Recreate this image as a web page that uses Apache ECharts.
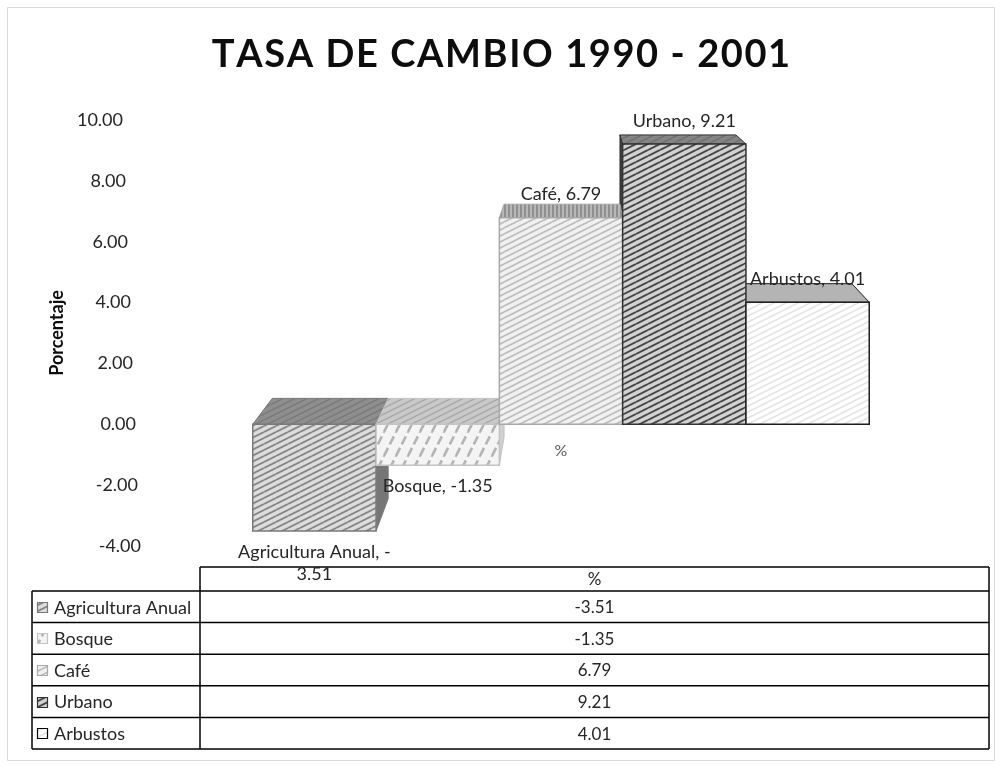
<!DOCTYPE html>
<html>
<head>
<meta charset="utf-8">
<title>Tasa de cambio 1990 - 2001</title>
<script src="https://cdn.jsdelivr.net/npm/echarts@6/dist/echarts.min.js"></script>
<style>
  html, body { margin: 0; padding: 0; background: #ffffff; }
  #chart { width: 1002px; height: 768px; }
</style>
</head>
<body>
<div id="chart"></div>
<script>
// ---- data ----
const categories = ['%'];
const seriesNames = ['Agricultura Anual', 'Bosque', 'Café', 'Urbano', 'Arbustos'];
const seriesValues = [-3.51, -1.35, 6.79, 9.21, 4.01];
const yTicks = [-4, -2, 0, 2, 4, 6, 8, 10];
const tableHeader = '%';
const chartTitle = 'TASA DE CAMBIO 1990 - 2001';

// ---- look ----
const FONT = 'Lato, "Open Sans", sans-serif';
const GRID = { left: 150, right: 30, top: 120, bottom: 222 };
const CHART_H = 768;
const BAR_SHARE = 0.75;      // share of the category band covered by the bars
const DEPTH = 0.06;          // how far the back faces recede toward the vanishing point
const VANISH_VALUE = 14.2;   // vanishing point height, in axis units
const VANISH_SHIFT = 17;     // vanishing point offset from the band centre, px

const yMin = yTicks[0];
const yMax = yTicks[yTicks.length - 1];
// category label sits on the zero line
const plotH = CHART_H - GRID.top - GRID.bottom;
const xAxisOffset = -plotH * (0 - yMin) / (yMax - yMin);

function stripes(bg, fg, w, h, lw, dash) {
  const c = document.createElement('canvas');
  c.width = w; c.height = h;
  const ctx = c.getContext('2d');
  ctx.fillStyle = bg;
  ctx.fillRect(0, 0, w, h);
  ctx.strokeStyle = fg;
  ctx.lineWidth = lw;
  if (dash) ctx.setLineDash(dash);
  for (let k = -1; k <= 1; k++) {
    ctx.beginPath();
    ctx.moveTo(0, h + k * h);
    ctx.lineTo(w, k * h);
    ctx.stroke();
  }
  return { image: c, repeat: 'repeat' };
}
function steep(bg, fg, w, h, lw, dash) {
  const c = document.createElement('canvas');
  c.width = w; c.height = h;
  const ctx = c.getContext('2d');
  ctx.fillStyle = bg;
  ctx.fillRect(0, 0, w, h);
  ctx.strokeStyle = fg;
  ctx.lineWidth = lw;
  if (dash) ctx.setLineDash(dash);
  for (let k = -1; k <= 1; k++) {
    ctx.beginPath();
    ctx.moveTo(k * w, h);
    ctx.lineTo(w + k * w, 0);
    ctx.stroke();
  }
  return { image: c, repeat: 'repeat' };
}
function vbars(bg, fg, w, lw) {
  const c = document.createElement('canvas');
  c.width = w; c.height = w;
  const ctx = c.getContext('2d');
  ctx.fillStyle = bg;
  ctx.fillRect(0, 0, w, w);
  ctx.fillStyle = fg;
  ctx.fillRect(0, 0, lw, w);
  return { image: c, repeat: 'repeat' };
}

const faces = [
  { // Agricultura Anual
    front: stripes('#dcdcdc', '#858585', 12, 6, 1.8), stroke: '#7a7a7a',
    top: stripes('#8e8e8e', '#7a7a7a', 12, 6, 1.5), side: '#767676'
  },
  { // Bosque
    front: steep('#f4f4f4', '#b4b4b4', 12, 24, 2.6, [9, 4]), stroke: '#c4c4c4',
    top: stripes('#c9c9c9', '#a9a9a9', 12, 6, 1.5), side: '#d0d0d0'
  },
  { // Café
    front: stripes('#f1f1f1', '#bdbdbd', 12, 6, 1.7), stroke: '#a8a8a8',
    top: vbars('#b8b8b8', '#8e8e8e', 4, 2), side: '#9a9a9a'
  },
  { // Urbano
    front: stripes('#d2d2d2', '#444444', 12, 6, 1.9), stroke: '#333333',
    top: stripes('#858585', '#6e6e6e', 12, 6, 1.2), side: '#3e3e3e'
  },
  { // Arbustos
    front: stripes('#ffffff', '#e4e4e4', 12, 6, 1.6), stroke: '#1f1f1f',
    top: '#b4b4b4', side: '#9a9a9a'
  }
];

function barLabel(name, v) {
  const txt = name + ', ' + v.toFixed(2);
  // long negative labels wrap right after the sign
  if (txt.length > 20 && v < 0) return name + ', -\n' + Math.abs(v).toFixed(2);
  return txt;
}

function geom(api) {
  const i = api.value(2);
  const v = api.value(1);
  const c0 = api.coord([0, 0]);
  const cv = api.coord([0, v]);
  const band = api.size([1, 0])[0];
  const barW = band * BAR_SHARE / seriesValues.length;
  const x0 = c0[0] - band * BAR_SHARE / 2 + i * barW;
  const x1 = x0 + barW;
  const yt = Math.min(c0[1], cv[1]);
  const yb = Math.max(c0[1], cv[1]);
  const vp = api.coord([0, VANISH_VALUE]);
  vp[0] = c0[0] + VANISH_SHIFT;
  const back = (x, y) => [x + (vp[0] - x) * DEPTH, y + (vp[1] - y) * DEPTH];
  return { i, v, x0, x1, yt, yb, vp, back };
}

function renderSide(params, api) {
  const g = geom(api);
  const f = faces[g.i];
  let x = null;
  if (g.x1 < g.vp[0]) x = g.x1;
  else if (g.x0 > g.vp[0]) x = g.x0;
  if (x === null) return { type: 'group', children: [] };
  return {
    type: 'polygon',
    shape: { points: [[x, g.yt], g.back(x, g.yt), g.back(x, g.yb), [x, g.yb]] },
    style: { fill: f.side, stroke: f.stroke, lineWidth: 1 }
  };
}

function renderTop(params, api) {
  const g = geom(api);
  const f = faces[g.i];
  return {
    type: 'polygon',
    shape: { points: [[g.x0, g.yt], [g.x1, g.yt], g.back(g.x1, g.yt), g.back(g.x0, g.yt)] },
    style: { fill: f.top, stroke: f.stroke, lineWidth: 1 }
  };
}

function renderFront(params, api) {
  const g = geom(api);
  const f = faces[g.i];
  const cx = (g.x0 + g.x1) / 2;
  const pos = g.v >= 0;
  return {
    type: 'group',
    children: [
      {
        type: 'rect',
        shape: { x: g.x0, y: g.yt, width: g.x1 - g.x0, height: g.yb - g.yt },
        style: { fill: f.front, stroke: f.stroke, lineWidth: 1.5 }
      },
      {
        type: 'text',
        x: cx,
        y: pos ? g.yt - 12 : g.yb + 10,
        style: {
          text: barLabel(seriesNames[g.i], g.v),
          fill: '#262626',
          font: '18px ' + FONT,
          lineHeight: 22,
          align: 'center',
          verticalAlign: pos ? 'bottom' : 'top'
        },
        z2: 10
      }
    ]
  };
}

const barData = seriesValues.map((v, i) => [0, v, i]);

// y tick labels drift right toward the floor, following the perspective
const yRich = {};
yTicks.forEach(t => {
  yRich['p' + (t - yMin)] = {
    fontFamily: FONT, fontSize: 18, color: '#262626',
    padding: [0, Math.round((t - yMin) * 1.29), 0, 0]
  };
});

// spaced-out capitals for the heading
const titleRich = {
  t: { fontFamily: FONT, fontWeight: 'bold', fontSize: 38, color: '#0d0d0d', padding: [0, 0.8, 0, 0.8] }
};
const titleMarkup = chartTitle.split('').map(ch => '{t|' + ch + '}').join('');

// ---- data table ----
const TBL = { left: 32, split: 200, right: 989, headTop: 567, headBottom: 591, rowH: 31.6 };
const tableGraphics = [];
const lineStyle = { stroke: '#000000', lineWidth: 1.5 };
const tblBottom = TBL.headBottom + TBL.rowH * seriesNames.length;
function hline(x1, x2, y) {
  tableGraphics.push({ type: 'line', shape: { x1, y1: y, x2, y2: y }, style: lineStyle, silent: true });
}
function vline(x, y1, y2) {
  tableGraphics.push({ type: 'line', shape: { x1: x, y1, x2: x, y2 }, style: lineStyle, silent: true });
}
hline(TBL.split, TBL.right, TBL.headTop);
vline(TBL.split, TBL.headTop, tblBottom);
vline(TBL.right, TBL.headTop, tblBottom);
vline(TBL.left, TBL.headBottom, tblBottom);
hline(TBL.left, TBL.right, TBL.headBottom);
tableGraphics.push({
  type: 'text', x: (TBL.split + TBL.right) / 2, y: (TBL.headTop + TBL.headBottom) / 2 + 1,
  style: { text: tableHeader, font: '17px ' + FONT, fill: '#262626', align: 'center', verticalAlign: 'middle' }
});
seriesNames.forEach((name, i) => {
  const top = TBL.headBottom + TBL.rowH * i;
  const mid = top + TBL.rowH / 2;
  hline(TBL.left, TBL.right, top + TBL.rowH);
  tableGraphics.push({
    type: 'rect', shape: { x: 37.5, y: Math.round(mid - 5) + 0.5, width: 10, height: 10 },
    style: { fill: faces[i].front, stroke: faces[i].stroke === '#1f1f1f' ? '#000' : faces[i].stroke, lineWidth: 1.2 }
  });
  tableGraphics.push({
    type: 'text', x: 54, y: mid + 1,
    style: { text: name, font: '18px ' + FONT, fill: '#262626', align: 'left', verticalAlign: 'middle' }
  });
  tableGraphics.push({
    type: 'text', x: (TBL.split + TBL.right) / 2, y: mid + 1,
    style: { text: seriesValues[i].toFixed(2), font: '17px ' + FONT, fill: '#262626', align: 'center', verticalAlign: 'middle' }
  });
});
// chart area frame
tableGraphics.unshift({
  type: 'rect', shape: { x: 7.5, y: 7.5, width: 987, height: 753 },
  style: { fill: 'none', stroke: '#d9d9d9', lineWidth: 1 }, z: -1
});

const chart = echarts.init(document.getElementById('chart'), null, { renderer: 'canvas' });
chart.setOption({
  animation: false,
  backgroundColor: '#ffffff',
  title: {
    text: titleMarkup,
    left: 'center',
    top: 31,
    textStyle: { rich: titleRich }
  },
  grid: { left: GRID.left, right: GRID.right, top: GRID.top, bottom: GRID.bottom, containLabel: false },
  xAxis: {
    type: 'category',
    data: categories,
    offset: xAxisOffset,
    axisLine: { show: false },
    axisTick: { show: false },
    splitLine: { show: false },
    axisLabel: { margin: 19, color: '#595959', fontFamily: FONT, fontSize: 16 }
  },
  yAxis: {
    type: 'value',
    min: yMin,
    max: yMax,
    interval: 2,
    axisLine: { show: false },
    axisTick: { show: false },
    splitLine: { show: false },
    axisLabel: {
      margin: 9,
      formatter: v => '{p' + (v - yMin) + '|' + v.toFixed(2) + '}',
      rich: yRich
    },
    name: 'Porcentaje',
    nameLocation: 'middle',
    nameRotate: 90,
    nameGap: 78,
    nameTextStyle: { fontFamily: FONT, fontWeight: 'bold', fontSize: 18, color: '#0d0d0d' }
  },
  series: [
    { type: 'custom', name: 'lados', data: barData, encode: { x: 0, y: 1 }, renderItem: renderSide, z: 2, silent: true },
    { type: 'custom', name: 'techos', data: barData, encode: { x: 0, y: 1 }, renderItem: renderTop, z: 3, silent: true },
    { type: 'custom', name: 'frentes', data: barData, encode: { x: 0, y: 1 }, renderItem: renderFront, z: 4 }
  ],
  graphic: { elements: tableGraphics }
});
</script>
</body>
</html>
